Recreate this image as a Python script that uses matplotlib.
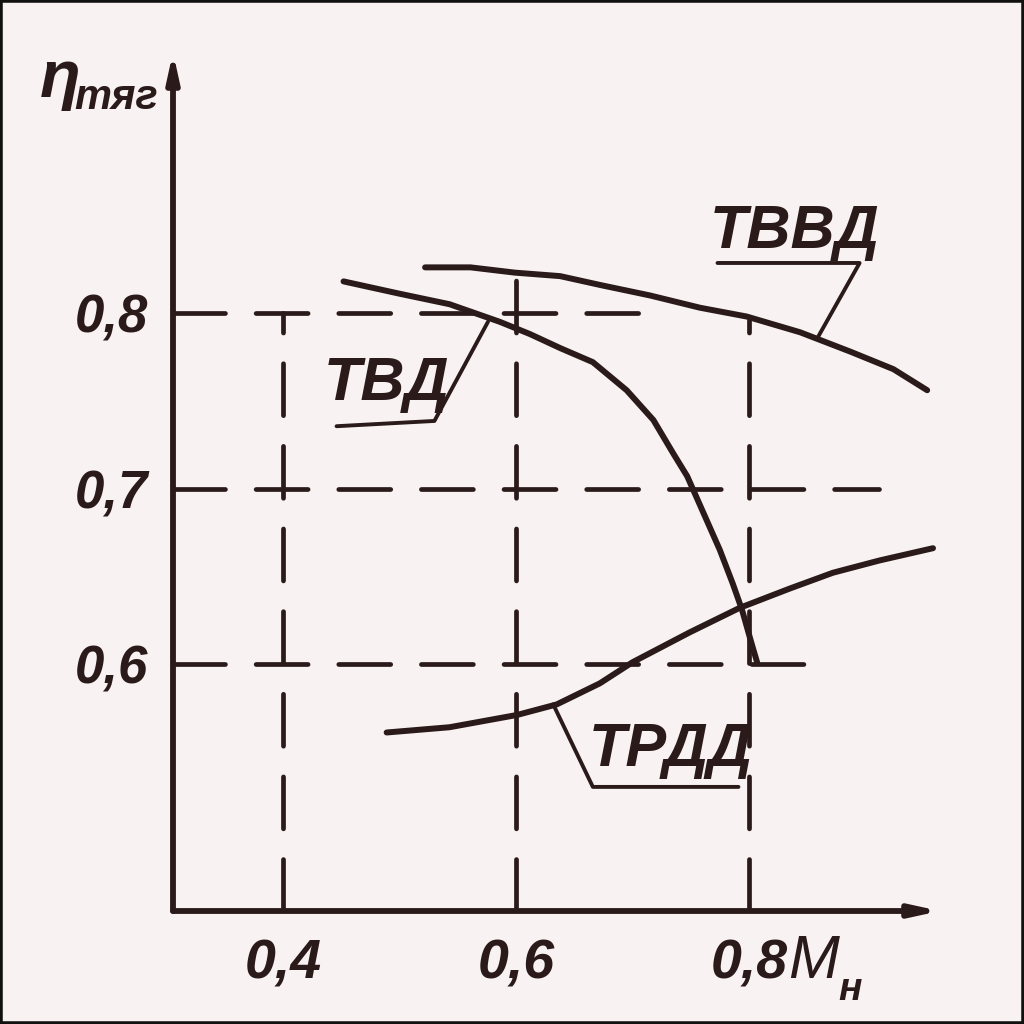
"""
Propulsive efficiency vs flight Mach number for three engine types
(hand-drawn textbook figure redrawn).
"""
import matplotlib
matplotlib.use("Agg")
import matplotlib.pyplot as plt
from matplotlib.patches import Rectangle

INK = "#2a1b1a"
PAPER = "#f8f2f2"
FONT = ["Liberation Sans", "DejaVu Sans"]

# curve data: (M, eta)
tvvd_m   = [0.522, 0.561, 0.599, 0.638, 0.672, 0.715, 0.758, 0.798, 0.844, 0.887, 0.924, 0.953]
tvvd_eta = [0.826, 0.826, 0.823, 0.821, 0.816, 0.810, 0.803, 0.798, 0.789, 0.778, 0.768, 0.756]

tvd_m   = [0.452, 0.500, 0.543, 0.586, 0.612, 0.638, 0.666, 0.695, 0.718, 0.735,
           0.747, 0.761, 0.775, 0.786, 0.794, 0.803, 0.807]
tvd_eta = [0.818, 0.811, 0.805, 0.795, 0.788, 0.780, 0.772, 0.756, 0.739, 0.720,
           0.707, 0.686, 0.665, 0.646, 0.631, 0.610, 0.601]

trdd_m   = [0.489, 0.543, 0.601, 0.635, 0.672, 0.700, 0.749, 0.792, 0.835, 0.872, 0.912, 0.958]
trdd_eta = [0.561, 0.564, 0.571, 0.577, 0.589, 0.601, 0.618, 0.632, 0.643, 0.652, 0.659, 0.666]

x_ticks = [0.4, 0.6, 0.8]
x_labels = ["0,4", "0,6", "0,8"]
y_ticks = [0.6, 0.7, 0.8]
y_labels = ["0,6", "0,7", "0,8"]

# dashed guide lines: (value, far end)
v_guides = [(0.4, 0.800), (0.6, 0.820), (0.8, 0.796)]
h_guides = [(0.8, 0.724), (0.7, 0.912), (0.6, 0.863)]

XMIN, XMAX = 0.3056, 0.964
YMIN, YMAX = 0.4593, 0.9487

fig = plt.figure(figsize=(10.24, 10.24), dpi=100)
fig.patch.set_facecolor(PAPER)
fig.patches.append(Rectangle((0, 0), 1, 1, transform=fig.transFigure,
                             fill=False, edgecolor="#111", linewidth=4))

ax = fig.add_axes([173 / 1024, 113 / 1024, (940 - 173) / 1024, (911 - 52) / 1024])
ax.set_facecolor("none")
ax.set_xlim(XMIN, XMAX)
ax.set_ylim(YMIN, YMAX)
for s in ax.spines.values():
    s.set_visible(False)

# axes with arrows
arrow = dict(arrowstyle="-|>,head_length=1.6,head_width=0.35", color=INK,
             lw=4.2, shrinkA=0, shrinkB=0, capstyle="round")
ax.annotate("", xy=(1.0, 0), xytext=(0, 0), xycoords="axes fraction",
            arrowprops=arrow)
ax.annotate("", xy=(0, 1.0), xytext=(0, 0), xycoords="axes fraction",
            arrowprops=arrow)

dash = dict(color=INK, lw=3.4, dashes=(11, 6.5), dash_capstyle="round")
for xv, top in v_guides:
    ax.plot([xv, xv], [YMIN, top], **dash)
for yv, right in h_guides:
    ax.plot([XMIN, right], [yv, yv], **dash)

curve = dict(color=INK, lw=4.3, solid_capstyle="round", solid_joinstyle="round")
ax.plot(tvvd_m, tvvd_eta, **curve)
ax.plot(tvd_m, tvd_eta, **curve)
ax.plot(trdd_m, trdd_eta, **curve)

# ticks
ax.set_xticks(x_ticks, x_labels)
ax.set_yticks(y_ticks, y_labels)
ax.tick_params(length=0, colors=INK)
ax.tick_params(axis="x", pad=20)
ax.tick_params(axis="y", pad=18)
for lab in ax.get_xticklabels():
    lab.set_fontfamily(FONT); lab.set_fontsize(40)
    lab.set_fontstyle("italic"); lab.set_fontweight("bold")
for lab in ax.get_yticklabels():
    lab.set_fontfamily(FONT); lab.set_fontsize(38)
    lab.set_fontstyle("italic"); lab.set_fontweight("bold")

# curve labels with underline and leader
txt = dict(color=INK, fontsize=44, fontstyle="italic", fontweight="bold",
           family=FONT, ha="center", va="center")
lead = dict(color=INK, lw=2.8, solid_capstyle="round")

ax.text(0.8395, 0.8456, "ТВВД", **txt)
ax.plot([0.773, 0.895, tvvd_m[8] + 0.015], [0.8285, 0.8285, tvvd_eta[8] - 0.003], **lead)

ax.text(0.489, 0.759, "ТВД", **txt)
ax.plot([0.446, 0.530, tvd_m[3] - 0.01], [0.7355, 0.7385, tvd_eta[3]], **lead)

ax.text(0.733, 0.551, "ТРДД", **txt)
ax.plot([0.791, 0.666, trdd_m[3] - 0.003], [0.530, 0.530, trdd_eta[3]], **lead)

# axis titles
fig.text(60 / 1024, 1 - 80 / 1024, "η", color=INK, fontsize=48,
         fontstyle="italic", fontweight="bold", family=FONT, ha="center", va="center")
fig.text(116 / 1024, 1 - 98 / 1024, "тяг", color=INK, fontsize=30,
         fontstyle="italic", fontweight="bold", family=FONT, ha="center", va="center")
fig.text(814 / 1024, 1 - 962 / 1024, "M", color=INK, fontsize=44,
         fontstyle="italic", family=FONT, ha="center", va="center")
fig.text(850 / 1024, 1 - 990 / 1024, "н", color=INK, fontsize=28,
         fontstyle="italic", fontweight="bold", family=FONT, ha="center", va="center")

fig.savefig("out.png", dpi=100, facecolor=fig.get_facecolor())
